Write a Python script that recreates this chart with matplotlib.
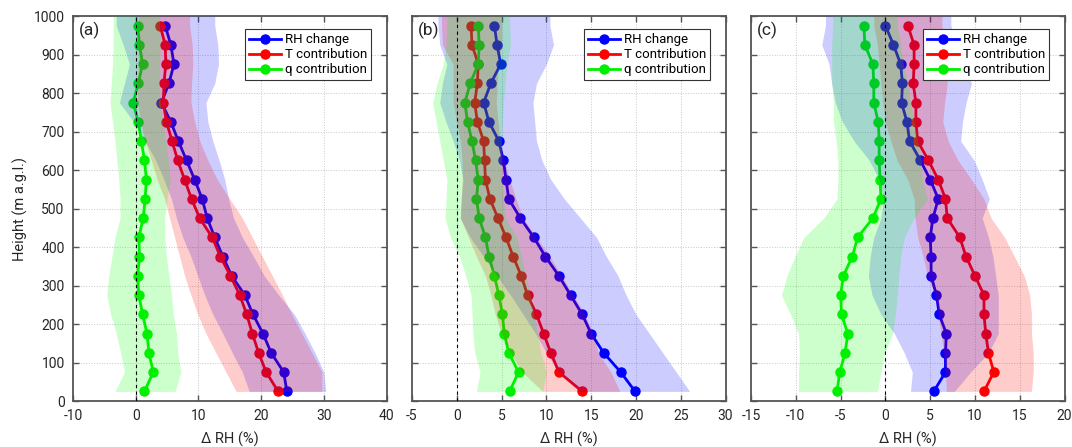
import numpy as np
import matplotlib
matplotlib.use("Agg")
import matplotlib.pyplot as plt

plt.rcParams['font.family'] = ['Roboto', 'DejaVu Sans']
plt.rcParams['axes.unicode_minus'] = False

# heights of the profile levels (m a.g.l.), bottom to top
heights = [25, 75, 125, 175, 225, 275, 325, 375, 425, 475,
           525, 575, 625, 675, 725, 775, 825, 875, 925, 975]

# panel (a)
rh_a = [24.1, 23.6, 21.6, 20.3, 18.7, 17.4, 15.3, 13.9, 12.6, 11.4, 10.6, 9.4, 8.1, 6.8, 5.6, 4.1, 5.3, 6.1, 5.6, 4.7]
t_a = [22.7, 20.8, 19.6, 18.6, 17.7, 16.6, 15.1, 13.5, 12.2, 10.2, 8.9, 7.8, 6.7, 5.8, 4.9, 4.4, 4.5, 4.8, 4.7, 3.9]
q_a = [1.4, 2.8, 2.1, 1.8, 1.1, 0.5, 0.3, 0.6, 0.5, 1.2, 1.5, 1.7, 1.4, 0.9, 0.4, -0.4, 0.4, 1.1, 0.6, 0.3]
rh_lo_a = [18.1, 17.0, 15.4, 13.9, 12.3, 11.0, 9.9, 8.8, 7.5, 6.5, 5.7, 4.5, 3.2, 1.5, -0.3, -2.6, -1.8, -1.0, -2.0, -3.1]
rh_hi_a = [30.3, 30.0, 28.6, 27.0, 25.3, 22.8, 20.5, 18.8, 17.0, 15.6, 14.8, 14.2, 13.3, 12.3, 11.5, 11.2, 12.6, 13.2, 13.1, 12.6]
t_lo_a = [16.0, 14.4, 12.8, 11.2, 9.9, 8.8, 7.8, 7.0, 6.2, 5.4, 4.6, 3.4, 2.5, 1.5, 0.8, 0.3, 0.3, 0.4, 0.4, 0.4]
t_hi_a = [29.7, 29.7, 28.1, 26.5, 24.9, 23.4, 21.8, 20.2, 18.6, 17.0, 15.0, 13.0, 11.5, 10.2, 9.4, 8.8, 8.9, 9.1, 9.0, 8.6]
q_lo_a = [-3.3, -1.8, -2.4, -3.1, -4.0, -4.6, -4.3, -3.8, -3.3, -2.5, -2.5, -2.7, -3.0, -3.3, -3.7, -4.1, -3.9, -3.7, -3.6, -3.6]
q_hi_a = [6.3, 7.2, 6.7, 6.5, 6.0, 5.7, 5.3, 4.9, 4.6, 4.6, 5.0, 5.5, 5.2, 4.8, 4.3, 3.9, 3.8, 3.8, 3.9, 3.8]

# panel (b)
rh_b = [19.9, 18.3, 16.4, 15.0, 14.0, 12.7, 11.4, 9.9, 8.6, 7.1, 5.8, 5.5, 5.2, 4.7, 3.6, 3.0, 3.8, 4.9, 4.5, 4.2]
t_b = [14.0, 11.4, 10.5, 9.7, 8.9, 7.9, 7.2, 6.3, 5.5, 4.6, 3.7, 3.2, 3.1, 3.0, 2.3, 2.0, 2.3, 2.4, 1.7, 1.6]
q_b = [5.9, 6.9, 5.8, 5.3, 5.1, 4.7, 4.2, 3.6, 3.2, 2.5, 2.2, 2.4, 2.1, 1.7, 1.2, 0.9, 1.5, 2.4, 2.5, 2.4]
rh_lo_b = [13.7, 11.4, 10.0, 8.8, 7.4, 6.0, 4.5, 3.0, 1.5, 0.4, 0.5, 0.7, 0.3, -0.4, -1.2, -1.9, -1.6, -1.1, -1.9, -2.1]
rh_hi_b = [26.0, 24.5, 23.0, 21.5, 20.0, 18.9, 18.0, 16.7, 15.6, 13.8, 12.0, 10.5, 9.5, 8.9, 8.7, 8.5, 8.9, 10.0, 10.8, 10.4]
t_lo_b = [9.6, 7.3, 6.0, 5.0, 4.3, 3.8, 3.2, 2.2, 1.3, 0.4, 0.5, 0.6, 0.6, 0.4, 0.0, -0.4, -0.4, -0.4, -1.6, -1.7]
t_hi_b = [18.2, 17.2, 15.8, 15.2, 14.3, 13.0, 11.7, 10.4, 8.9, 7.4, 6.6, 5.9, 5.3, 4.8, 4.6, 4.4, 4.5, 4.6, 5.0, 5.0]
q_lo_b = [2.2, 2.6, 2.0, 1.8, 1.7, 1.6, 1.0, 0.3, -0.7, -1.3, -1.2, -1.1, -1.5, -1.9, -2.3, -2.7, -2.2, -1.5, -1.2, -1.1]
q_hi_b = [9.6, 10.0, 9.4, 9.0, 8.6, 8.2, 7.7, 7.2, 6.7, 5.4, 5.2, 5.0, 5.0, 5.0, 5.1, 5.2, 5.4, 5.6, 6.0, 5.9]

# panel (c)
rh_c = [5.4, 6.7, 6.7, 6.8, 6.0, 5.7, 5.1, 5.1, 5.0, 5.3, 5.9, 5.0, 3.9, 2.7, 2.4, 1.8, 1.9, 1.7, 0.9, 0.0]
t_c = [11.0, 12.1, 11.5, 11.2, 11.0, 11.0, 10.0, 9.0, 8.3, 6.9, 6.7, 5.9, 4.8, 3.6, 3.4, 3.4, 3.1, 3.2, 3.2, 2.5]
q_c = [-5.4, -5.1, -4.5, -4.2, -4.9, -5.0, -4.7, -3.7, -3.1, -1.4, -0.5, -0.6, -0.7, -0.7, -0.8, -1.3, -1.3, -1.4, -2.3, -2.4]
rh_lo_c = [2.8, 3.0, 2.1, 1.0, -0.5, -1.5, -1.9, -1.7, -1.3, -0.5, -0.2, -0.7, -1.8, -3.5, -4.8, -5.6, -6.0, -6.3, -7.1, -6.7]
rh_hi_c = [7.7, 9.5, 11.5, 12.6, 12.6, 12.6, 12.3, 12.0, 11.5, 10.8, 11.6, 10.8, 9.9, 8.4, 8.6, 9.0, 9.6, 8.9, 8.1, 7.3]
t_lo_c = [6.8, 6.7, 6.5, 6.2, 5.9, 5.5, 4.7, 4.2, 3.6, 3.3, 3.2, 2.5, 1.3, 0.6, 0.0, -0.3, -0.5, -0.7, -0.9, -1.3]
t_hi_c = [16.3, 16.5, 16.5, 16.3, 16.3, 16.1, 15.5, 14.4, 13.3, 11.8, 11.0, 9.6, 8.1, 7.0, 6.4, 6.6, 6.9, 6.8, 6.8, 6.3]
q_lo_c = [-9.7, -9.7, -9.6, -9.7, -10.6, -11.6, -11.0, -10.1, -9.1, -6.9, -5.4, -5.3, -5.3, -5.5, -5.8, -5.8, -6.0, -6.0, -6.0, -5.9]
q_hi_c = [-0.9, -0.5, -0.1, 0.8, 1.1, 1.3, 1.5, 1.7, 2.1, 3.2, 4.7, 4.1, 4.0, 3.6, 3.2, 2.8, 2.5, 2.0, 1.7, 1.3]

panel_labels = ['(a)', '(b)', '(c)']
xlims = [(-10, 40), (-5, 30), (-15, 20)]
xsteps = [10, 5, 5]
series_names = ['RH change', 'T contribution', 'q contribution']
colors = ['#0000ff', '#ff0000', '#00ee00']
band_colors = ['#0000ff', '#ff0000', '#00ff00']

panels = [
    ([rh_a, t_a, q_a], [(rh_lo_a, rh_hi_a), (t_lo_a, t_hi_a), (q_lo_a, q_hi_a)]),
    ([rh_b, t_b, q_b], [(rh_lo_b, rh_hi_b), (t_lo_b, t_hi_b), (q_lo_b, q_hi_b)]),
    ([rh_c, t_c, q_c], [(rh_lo_c, rh_hi_c), (t_lo_c, t_hi_c), (q_lo_c, q_hi_c)]),
]

fig = plt.figure(figsize=(10.72, 4.47), dpi=100)
lefts = [0.0681, 0.3843, 0.7006]
width = 0.2925
bottom, height = 0.1029, 0.8613
ytop = 1000

for i, (lines, bands) in enumerate(panels):
    ax = fig.add_axes([lefts[i], bottom, width, height])
    # lines first, shaded spread drawn on top (as in the original)
    for vals, name, c in zip(lines, series_names, colors):
        ax.plot(vals, heights, '-o', color=c, lw=2, ms=6.5, label=name, zorder=2)
    band_h = np.r_[heights, ytop]
    for (lo, hi), c in zip(bands, band_colors):
        ax.fill_betweenx(band_h, np.r_[lo, lo[-1]], np.r_[hi, hi[-1]],
                         color=c, alpha=0.2, lw=0, zorder=3)
    ax.axvline(0, color='k', ls=(0, (3, 3)), lw=0.8, zorder=4)

    x0, x1 = xlims[i]
    ax.set_xlim(x0, x1)
    ax.set_ylim(0, ytop)
    ax.set_xticks(np.arange(x0, x1 + 1, xsteps[i]))
    ax.set_yticks(np.arange(0, ytop + 1, 100))
    ax.grid(True, color='#c8c8c8', ls=':', lw=0.7, zorder=0)
    ax.set_axisbelow(True)
    ax.tick_params(direction='in', top=True, right=True, length=4,
                   width=1, color='#555555', labelsize=10, labelcolor='#262626', pad=6)
    for s in ax.spines.values():
        s.set_color('#555555')
        s.set_linewidth(1.3)
    if i > 0:
        ax.set_yticklabels([])
    else:
        ax.set_ylabel('Height (m a.g.l.)', fontsize=10.5, color='#262626')
    ax.set_xlabel('Δ RH (%)', fontsize=10.5, color='#262626', labelpad=6)
    ax.text(0.02, 0.985, panel_labels[i], transform=ax.transAxes,
            ha='left', va='top', fontsize=12.5, color='#262626', zorder=6)
    leg = ax.legend(loc='upper right', bbox_to_anchor=(0.95, 0.965),
                    borderaxespad=0, fontsize=9.5, handlelength=2.4,
                    fancybox=False, framealpha=1, edgecolor='#333333',
                    borderpad=0.3, labelspacing=0.15, handletextpad=0.3)
    leg.get_frame().set_linewidth(0.8)
    leg.set_zorder(7)

fig.savefig('out.png', dpi=100)
